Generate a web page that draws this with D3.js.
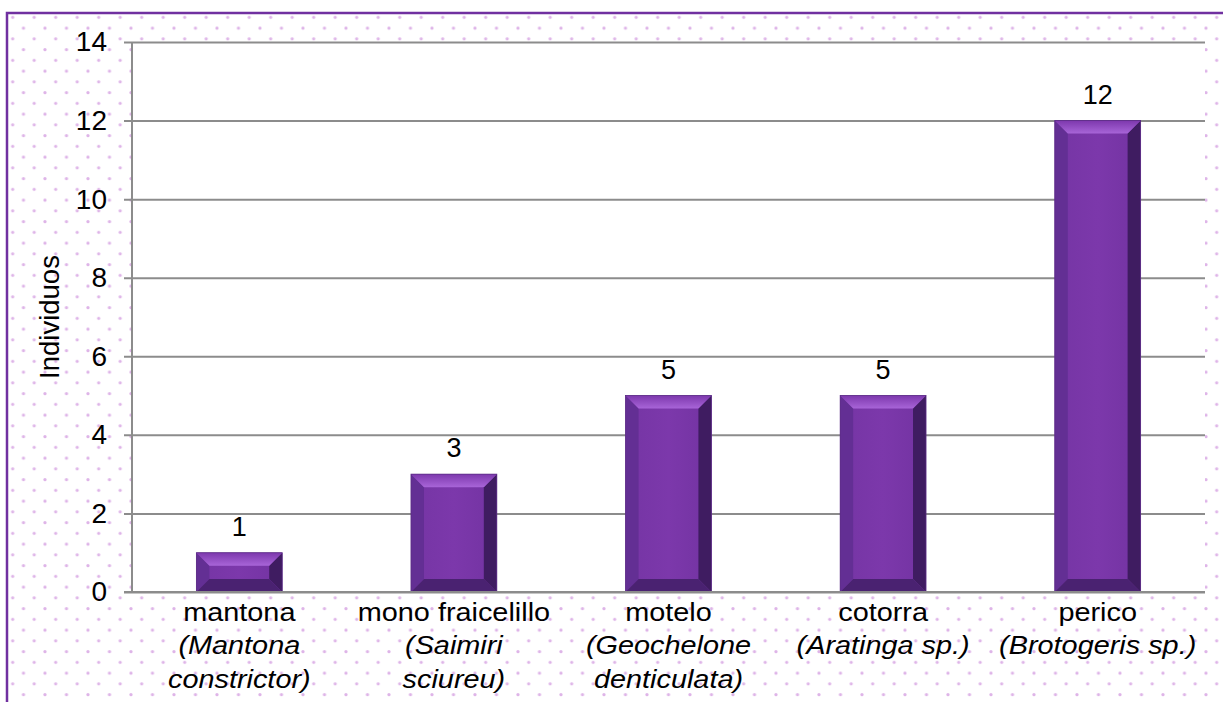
<!DOCTYPE html>
<html>
<head>
<meta charset="utf-8">
<script src="https://cdn.jsdelivr.net/npm/d3@7"></script>
<style>
  body { margin: 0; background: #fff; }
  svg { display: block; font-family: "Liberation Sans", Arial, sans-serif; }
</style>
</head>
<body>
<div id="chart"></div>
<script>
// chart data
const categories = ["mantona", "mono fraicelillo", "motelo", "cotorra", "perico"];
const scientific = [["(Mantona", "constrictor)"], ["(Saimiri", "sciureu)"], ["(Geochelone", "denticulata)"], ["(Aratinga sp.)"], ["(Brotogeris sp.)"]];
const values = [1, 3, 5, 5, 12];
const yTicks = [0, 2, 4, 6, 8, 10, 12, 14];
const yTitle = "Individuos";

const width = 1223;
const height = 702;
const marginLeft = 132;
const marginRight = 18;
const marginTop = 42;
const marginBottom = 110;

const svg = d3.select("#chart").append("svg")
    .attr("width", width)
    .attr("height", height);

//dotted background pattern
const defs = svg.append("defs");
const pat = defs.append("pattern")
    .attr("id", "dots")
    .attr("patternUnits", "userSpaceOnUse")
    .attr("x", 2)
    .attr("y", 7)
    .attr("width", 21.5)
    .attr("height", 21.5);
[[10.7, 10.3], [21.45, 21.05], [0, 21.05], [21.45, -0.45], [0, -0.45]].forEach(([cx, cy]) => {
    pat.append("circle").attr("cx", cx).attr("cy", cy).attr("r", 1.6).attr("fill", "#deb4e8");
});

const topGrad = defs.append("linearGradient")
    .attr("id", "topBevel").attr("x1", 0).attr("y1", 0).attr("x2", 0).attr("y2", 1);
topGrad.append("stop").attr("offset", "0%").attr("stop-color", "#7d38ad");
topGrad.append("stop").attr("offset", "100%").attr("stop-color", "#a865d8");

const faceGrad = defs.append("linearGradient")
    .attr("id", "face").attr("x1", 0).attr("y1", 0).attr("x2", 1).attr("y2", 0);
faceGrad.append("stop").attr("offset", "0%").attr("stop-color", "#7535a4");
faceGrad.append("stop").attr("offset", "50%").attr("stop-color", "#7c38ab");
faceGrad.append("stop").attr("offset", "100%").attr("stop-color", "#7333a2");

//outer frame
svg.append("rect")
    .attr("x", 7)
    .attr("y", 13)
    .attr("width", width + 20)
    .attr("height", height + 20)
    .attr("fill", "url(#dots)")
    .attr("stroke", "#7030a0")
    .attr("stroke-width", 2.5);

const x = d3.scaleBand()
    .domain(categories)
    .range([marginLeft, width - marginRight])
    .paddingInner(0.6)
    .paddingOuter(0.3);

const y = d3.scaleLinear()
    .domain([0, 14])
    .range([height - marginBottom, marginTop]);

//plot area
svg.append("rect")
    .attr("x", marginLeft)
    .attr("y", marginTop)
    .attr("width", width - marginRight - marginLeft)
    .attr("height", y(0) - marginTop)
    .attr("fill", "#fff");

//y axis with gridlines
svg.append("g")
    .attr("transform", `translate(${marginLeft},0)`)
    .call(d3.axisLeft(y).tickValues(yTicks).tickSize(8).tickPadding(17))
    .call(g => g.select(".domain").remove())
    .call(g => g.selectAll(".tick line")
        .attr("x1", -8)
        .attr("x2", width - marginRight - marginLeft)
        .attr("stroke", "#8c8c8c")
        .attr("stroke-width", 2))
    .call(g => g.selectAll(".tick text")
        .attr("font-size", 28)
        .attr("fill", "#000")
        .attr("font-family", "Liberation Sans, Arial, sans-serif"));

svg.append("line")
    .attr("x1", marginLeft).attr("x2", marginLeft)
    .attr("y1", marginTop).attr("y2", y(0))
    .attr("stroke", "#8c8c8c")
    .attr("stroke-width", 2);

//bevelled bars
const b = 13;
const bars = svg.append("g")
    .selectAll("g")
    .data(values)
    .join("g")
    .attr("transform", (d, i) => `translate(${x(categories[i])},${y(d)})`);

bars.each(function (d) {
    const g = d3.select(this);
    const w = x.bandwidth();
    const h = y(0) - y(d);
    g.append("rect").attr("width", w).attr("height", h).attr("fill", "url(#face)");
    //left
    g.append("polygon").attr("points", `0,0 ${b},${b} ${b},${h - b} 0,${h}`).attr("fill", "#632f94");
    //right
    g.append("polygon").attr("points", `${w},0 ${w - b},${b} ${w - b},${h - b} ${w},${h}`).attr("fill", "#3f1c61");
    //top
    g.append("polygon").attr("points", `0,0 ${w},0 ${w - b},${b} ${b},${b}`).attr("fill", "url(#topBevel)");
    //bottom
    g.append("polygon").attr("points", `0,${h} ${w},${h} ${w - b},${h - b} ${b},${h - b}`).attr("fill", "#4a2271");
    g.append("rect").attr("width", w).attr("height", h)
        .attr("fill", "none").attr("stroke", "#5a2a85").attr("stroke-width", 0.8);
});

//data labels
svg.append("g")
    .selectAll("text")
    .data(values)
    .join("text")
    .attr("x", (d, i) => x(categories[i]) + x.bandwidth() / 2)
    .attr("y", d => y(d) - 17)
    .attr("text-anchor", "middle")
    .attr("font-size", 27)
    .text(d => d);

//bottom axis line
svg.append("line")
    .attr("x1", marginLeft - 8).attr("x2", width - marginRight)
    .attr("y1", y(0)).attr("y2", y(0))
    .attr("stroke", "#8c8c8c")
    .attr("stroke-width", 2);

//category labels (text in the original is drawn a bit wide)
const lab = svg.append("g")
    .attr("font-size", 26)
    .attr("text-anchor", "middle")
    .selectAll("text")
    .data(categories)
    .join("text")
    .attr("transform", d => `translate(${x(d) + x.bandwidth() / 2},${y(0) + 29}) scale(1.11,1)`);

lab.append("tspan").attr("x", 0).text(d => d);
lab.each(function (d, i) {
    const t = d3.select(this);
    scientific[i].forEach(s => {
        t.append("tspan")
            .attr("x", 0)
            .attr("dy", 33.5)
            .attr("font-style", "italic")
            .text(s);
    });
});

//y axis title
svg.append("text")
    .attr("transform", `translate(59,317) rotate(-90)`)
    .attr("text-anchor", "middle")
    .attr("font-size", 27.5)
    .text(yTitle);
</script>
</body>
</html>
